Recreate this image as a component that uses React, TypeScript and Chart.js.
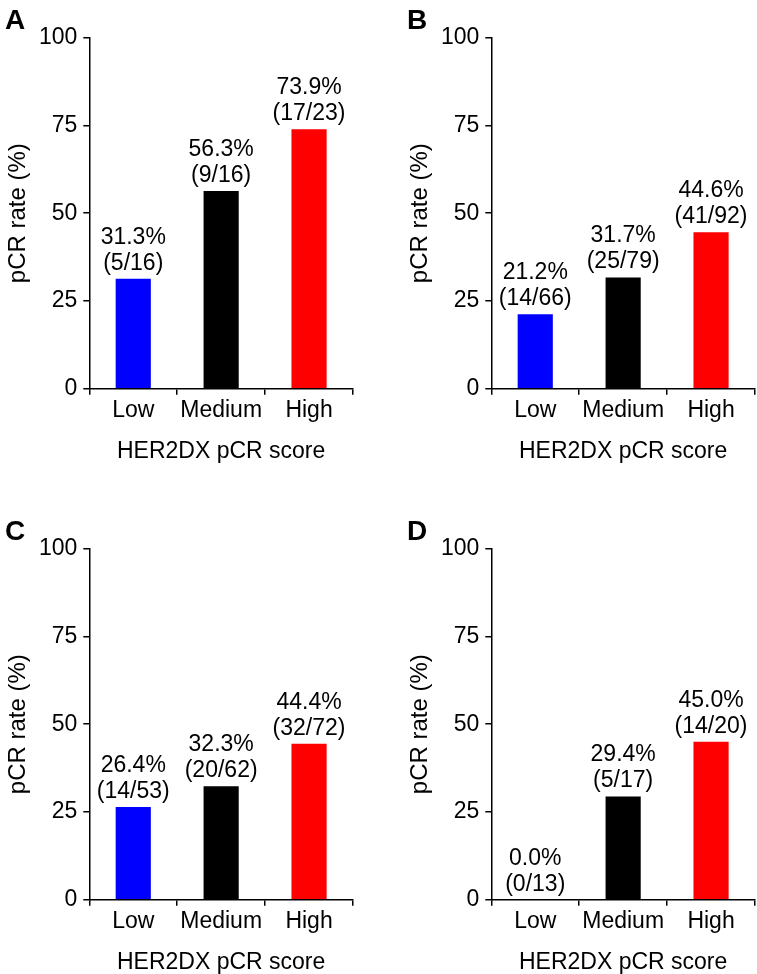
import React, { useEffect, useRef } from 'react';
import { Chart, registerables } from 'chart.js';

Chart.register(...registerables);

const FONT = '"Liberation Sans", Arial, Helvetica, sans-serif';

const categories = ['Low', 'Medium', 'High'];
const barColors = ['#0000ff', '#000000', '#ff0000'];
const yTicks = [0, 25, 50, 75, 100];
const xTitle = 'HER2DX pCR score';
const yTitle = 'pCR rate (%)';

const ratesA = [31.3, 56.3, 73.9];
const pcrA = [5, 9, 17];
const totalA = [16, 16, 23];

const ratesB = [21.2, 31.7, 44.6];
const pcrB = [14, 25, 41];
const totalB = [66, 79, 92];

const ratesC = [26.4, 32.3, 44.4];
const pcrC = [14, 20, 32];
const totalC = [53, 62, 72];

const ratesD = [0.0, 29.4, 45.0];
const pcrD = [0, 5, 14];
const totalD = [13, 17, 20];

const CANVAS_W = 354;
const CANVAS_H = 463;
const AREA_TOP = 37.7;
const AREA_BOTTOM = 388.7;
const AREA_LEFT = 89.3;
const FS = 23;

type PanelProps = {
  letter: string;
  rates: number[];
  pcr: number[];
  total: number[];
  left: number;
  top: number;
};

function Panel({ letter, rates, pcr, total, left, top }: PanelProps) {
  const ref = useRef<HTMLCanvasElement | null>(null);

  useEffect(() => {
    if (!ref.current) return;
    const labelPlugin = {
      id: 'barLabels',
      afterDatasetsDraw(chart: any) {
        const ctx = chart.ctx;
        const meta = chart.getDatasetMeta(0);
        ctx.save();
        ctx.font = `${FS}px ${FONT}`;
        ctx.fillStyle = '#000';
        ctx.textAlign = 'center';
        ctx.textBaseline = 'middle';
        meta.data.forEach((el: any, i: number) => {
          const { x, y } = el.getProps(['x', 'y'], true);
          ctx.fillText(`${rates[i].toFixed(1)}%`, x, y - 41.5);
          ctx.fillText(`(${pcr[i]}/${total[i]})`, x, y - 15.5);
        });
        ctx.restore();
      },
    };
    const letterPlugin = {
      id: 'panelLetter',
      afterDraw(chart: any) {
        const ctx = chart.ctx;
        ctx.save();
        ctx.font = `bold 28px ${FONT}`;
        ctx.fillStyle = '#000';
        ctx.textAlign = 'left';
        ctx.textBaseline = 'alphabetic';
        ctx.fillText(letter, 5, 28.5);
        ctx.restore();
      },
    };

    const tickFont = { size: FS, family: FONT, lineHeight: 1 };

    const chart = new Chart(ref.current, {
      type: 'bar',
      data: {
        labels: categories,
        datasets: [
          {
            data: rates,
            backgroundColor: barColors,
            borderWidth: 0,
            categoryPercentage: 1,
            barPercentage: 0.4,
          },
        ],
      },
      options: {
        responsive: false,
        animation: false,
        devicePixelRatio: 1,
        layout: { padding: { top: AREA_TOP, right: 1, left: 0, bottom: 0 } },
        plugins: {
          legend: { display: false },
          tooltip: { enabled: false },
          title: { display: false },
        },
        scales: {
          x: {
            type: 'category',
            offset: true,
            grid: {
              display: true,
              offset: true,
              drawOnChartArea: false,
              drawTicks: true,
              tickLength: 6,
              color: '#000',
              lineWidth: 1.5,
            },
            border: { display: true, color: '#000', width: 1.5 },
            ticks: {
              color: '#000',
              font: tickFont,
              padding: 4.5,
              maxRotation: 0,
              autoSkip: false,
            },
            title: {
              display: true,
              text: xTitle,
              color: '#000',
              font: tickFont,
              padding: 0,
            },
            afterFit: (s: any) => {
              s.height = CANVAS_H - AREA_BOTTOM;
            },
          },
          y: {
            type: 'linear',
            min: 0,
            max: 100,
            afterBuildTicks: (s: any) => {
              s.ticks = yTicks.map((v) => ({ value: v }));
            },
            ticks: { color: '#000', font: tickFont, padding: 6 },
            grid: {
              drawOnChartArea: false,
              drawTicks: true,
              tickLength: 6,
              color: '#000',
              lineWidth: 1.5,
            },
            border: { display: true, color: '#000', width: 1.5 },
            title: {
              display: true,
              text: yTitle,
              color: '#000',
              font: { size: 24, family: FONT, lineHeight: 1 },
              padding: 6.5,
            },
            afterFit: (s: any) => {
              s.width = AREA_LEFT;
            },
          },
        },
      },
      plugins: [labelPlugin, letterPlugin],
    } as any);
    return () => chart.destroy();
  }, [letter, rates, pcr, total]);

  return (
    <canvas
      ref={ref}
      width={CANVAS_W}
      height={CANVAS_H}
      style={{ position: 'absolute', left, top, width: CANVAS_W, height: CANVAS_H }}
    />
  );
}

export default function App() {
  return (
    <div
      style={{
        position: 'absolute',
        left: 0,
        top: 0,
        width: 757,
        height: 974,
        background: '#fff',
        overflow: 'hidden',
      }}
    >
      <Panel letter="A" rates={ratesA} pcr={pcrA} total={totalA} left={0} top={0} />
      <Panel letter="B" rates={ratesB} pcr={pcrB} total={totalB} left={402} top={0} />
      <Panel letter="C" rates={ratesC} pcr={pcrC} total={totalC} left={0} top={511} />
      <Panel letter="D" rates={ratesD} pcr={pcrD} total={totalD} left={402} top={511} />
    </div>
  );
}
